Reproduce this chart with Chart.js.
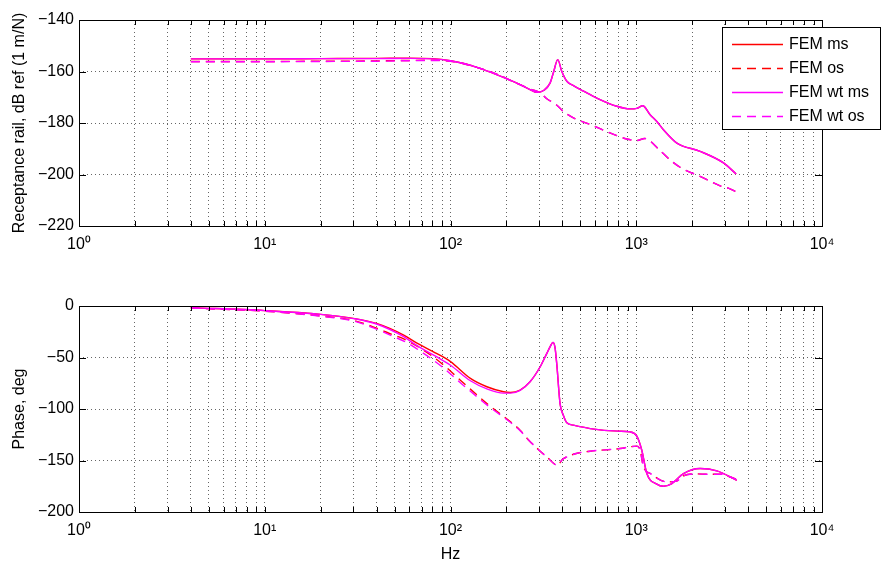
<!DOCTYPE html>
<html>
<head>
<meta charset="utf-8">
<script src="https://cdn.jsdelivr.net/npm/chart.js@4.4.1/dist/chart.umd.min.js"></script>
<style>
  body { margin: 0; background: #fff; }
  #wrap { position: relative; width: 881px; height: 564px; }
  #magWrap { position: absolute; left: 0; top: 0; }
  #phaseWrap { position: absolute; left: 0; top: 280px; }
</style>
</head>
<body>
<div id="wrap">
  <div id="magWrap"><canvas id="magChart" width="881" height="280"></canvas></div>
  <div id="phaseWrap"><canvas id="phaseChart" width="881" height="284"></canvas></div>
</div>
<script>
// receptance, dB ref 1 m/N
const magFreqMs = [4, 10, 20, 40, 60, 80, 100, 118, 140, 177, 220, 268, 292, 317, 344, 358, 378, 397, 423, 459, 520, 613, 786, 927, 1007, 1084, 1188, 1291, 1401, 1655, 2206, 2950, 3450];
const magMs =     [-155.1, -155.1, -155.0, -154.9, -154.8, -155.0, -155.8, -156.9, -158.5, -161.2, -164.0, -167.0, -168.1, -167.4, -164.4, -160.5, -155.4, -159.9, -163.8, -165.5, -167.6, -170.3, -173.5, -174.5, -174.3, -173.3, -176.8, -179.4, -182.6, -187.8, -191.0, -195.5, -199.8];
const magWtMs =   [-155.1, -155.1, -155.0, -155.0, -154.9, -155.1, -155.8, -156.9, -158.5, -161.2, -164.0, -167.0, -168.1, -167.4, -164.4, -160.5, -155.4, -159.9, -163.8, -165.5, -167.6, -170.3, -173.5, -174.5, -174.3, -173.3, -176.8, -179.4, -182.6, -187.8, -191.0, -195.5, -199.8];

const magFreqOs = [4, 10, 20, 40, 60, 80, 100, 118, 140, 177, 222, 268, 304, 330, 371, 405, 459, 565, 786, 888, 1007, 1110, 1330, 1530, 1750, 2250, 2560, 2830, 3130, 3470];
const magOs =     [-156.1, -156.1, -156.0, -155.9, -155.7, -155.6, -156.0, -157.0, -158.5, -161.0, -164.2, -166.8, -168.3, -170.6, -172.9, -175.5, -178.0, -180.6, -184.9, -186.2, -186.8, -186.0, -190.4, -194.5, -197.5, -201.0, -203.0, -204.4, -205.3, -206.8];
const magWtOs =   [-156.2, -156.2, -156.1, -156.0, -155.8, -155.7, -156.0, -157.0, -158.5, -161.0, -164.2, -166.8, -168.3, -170.6, -172.9, -175.5, -178.0, -180.6, -184.9, -186.2, -186.8, -186.0, -190.4, -194.5, -197.5, -201.0, -203.0, -204.4, -205.3, -206.8];

// phase, deg
const phaseFreqMs = [4, 10, 20, 30, 40, 56, 66, 84, 100, 128, 157, 193, 210, 237, 268, 304, 330, 345, 356, 365, 373, 389, 405, 423, 459, 565, 800, 927, 1007, 1071, 1140, 1291, 1401, 1555, 1796, 2206, 2716, 3477];
const phaseMs =     [-1.6, -4.5, -8.1, -12.0, -16.9, -28.2, -36.0, -46.0, -54.0, -70.3, -78.4, -83.3, -84.0, -81.7, -73.6, -59.0, -46.0, -39.0, -35.3, -40.0, -55.5, -95.0, -106.0, -113.4, -115.7, -119.0, -121.5, -122.2, -126.4, -140.0, -162.7, -173.0, -175.0, -172.4, -162.7, -157.8, -160.1, -169.2];
const phaseWtMs =   [-1.6, -4.5, -8.1, -12.2, -17.5, -29.8, -38.5, -49.2, -57.5, -72.6, -80.5, -84.6, -84.6, -81.9, -73.6, -59.0, -46.0, -39.0, -35.3, -40.0, -55.5, -95.0, -106.0, -113.4, -115.7, -119.0, -121.5, -122.2, -126.4, -140.0, -162.7, -173.0, -175.0, -172.4, -162.7, -157.8, -160.1, -169.2];

const phaseFreqOs = [4, 10, 20, 30, 40, 49, 56, 69, 90, 113, 157, 237, 263, 300, 330, 377, 400, 423, 475, 565, 819, 1007, 1050, 1093, 1200, 1349, 1470, 1650, 1800, 2120, 2420, 2950, 3200, 3450];
const phaseOs =     [-2.0, -5.0, -9.7, -14.0, -21.5, -28.0, -32.0, -41.0, -56.0, -72.0, -94.6, -120.6, -130.0, -140.0, -146.5, -154.6, -149.0, -146.5, -143.2, -141.0, -138.4, -136.0, -140.0, -156.0, -163.0, -169.0, -170.8, -170.0, -164.8, -163.0, -163.4, -163.4, -166.0, -168.0];
const phaseWtOs =   [-2.0, -5.0, -9.9, -14.5, -22.5, -29.5, -34.0, -44.0, -59.0, -74.5, -96.0, -121.0, -130.0, -140.0, -146.5, -154.6, -149.0, -146.5, -143.2, -141.0, -138.4, -136.0, -140.0, -156.0, -163.0, -169.0, -170.8, -170.0, -164.8, -163.0, -163.4, -163.4, -166.0, -168.0];

const seriesNames = ["FEM ms", "FEM os", "FEM wt ms", "FEM wt os"];
const magTicks = [-220, -200, -180, -160, -140];
const phaseTicks = [-200, -150, -100, -50, 0];

const FONT = "'Liberation Sans', Arial, sans-serif";
const sup = ["\u2070", "\u00b9", "\u00b2", "\u00b3", "\u2074"];

function pts(fs, vs) {
  return fs.map((f, i) => ({ x: f, y: vs[i] }));
}

// order: later series (magenta) go on top, like matlab's plot order
function line(label, data, color, dashed, order) {
  return {
    label, data, order,
    borderColor: color,
    borderWidth: 1.4,
    borderDash: dashed ? [9, 6] : [],
    pointRadius: 0,
    fill: false,
    tension: 0.3,
    cubicInterpolationMode: "monotone"
  };
}

// ticks and box like matlab, legend inside the upper axes
const frame = {
  id: "frame",
  afterDraw(chart, args, opts) {
    const { ctx, chartArea: a, scales: { x, y } } = chart;
    ctx.save();
    ctx.strokeStyle = "#000";
    ctx.lineWidth = 1;
    ctx.setLineDash([]);
    ctx.beginPath();
    x.ticks.forEach(t => {
      const px = Math.round(x.getPixelForValue(t.value)) + 0.5;
      ctx.moveTo(px, a.bottom); ctx.lineTo(px, a.bottom - 5);
      ctx.moveTo(px, a.top); ctx.lineTo(px, a.top + 5);
    });
    y.ticks.forEach(t => {
      const py = Math.round(y.getPixelForValue(t.value)) + 0.5;
      ctx.moveTo(a.left, py); ctx.lineTo(a.left + 7, py);
      ctx.moveTo(a.right, py); ctx.lineTo(a.right - 7, py);
    });
    ctx.stroke();
    ctx.strokeRect(Math.round(a.left) + 0.5, Math.round(a.top) + 0.5,
      Math.round(a.right - a.left), Math.round(a.bottom - a.top));

    if (opts.legend) {
      ctx.fillStyle = "#fff";
      ctx.fillRect(722.5, 27.5, 158, 102);
      ctx.strokeRect(722.5, 27.5, 158, 102);
      ctx.font = "16px " + FONT;
      ctx.textBaseline = "middle";
      const byLabel = chart.data.datasets.slice().sort((p, q) => seriesNames.indexOf(p.label) - seriesNames.indexOf(q.label));
      byLabel.forEach((ds, i) => {
        const yy = 44 + i * 24;
        ctx.strokeStyle = ds.borderColor;
        ctx.lineWidth = ds.borderWidth;
        ctx.setLineDash(ds.borderDash);
        ctx.beginPath();
        ctx.moveTo(732, yy + 0.5); ctx.lineTo(783, yy + 0.5);
        ctx.stroke();
        ctx.fillStyle = "#000";
        ctx.fillText(ds.label, 789, yy + 1);
      });
    }
    ctx.restore();
  }
};

function logTicks(scale) {
  const list = [];
  for (let e = 0; e < 4; e++) {
    for (let m = 1; m < 10; m++) list.push(m * Math.pow(10, e));
  }
  list.push(10000);
  scale.ticks = list.map(v => ({ value: v }));
}

function makeChart(id, datasets, yTicks, yTitle, xTitle, padTop, xHeight, legend) {
  const ctx = document.getElementById(id).getContext("2d");
  return new Chart(ctx, {
    type: "line",
    data: { datasets },
    options: {
      responsive: false,
      animation: false,
      layout: { padding: { top: padTop, right: 59, left: 0, bottom: 0 } },
      plugins: { legend: { display: false }, tooltip: { enabled: false }, frame: { legend } },
      scales: {
        x: {
          type: "logarithmic",
          min: 1, max: 10000,
          afterBuildTicks: logTicks,
          afterFit: s => { s.height = xHeight; },
          grid: { color: "rgba(0,0,0,0.6)", lineWidth: 1, drawTicks: false },
          border: { display: false, dash: [1, 3] },
          ticks: {
            autoSkip: false, maxRotation: 0, padding: 9, color: "#000",
            font: { family: FONT, size: 16 },
            callback: v => {
              const e = Math.log10(v);
              return Math.abs(e - Math.round(e)) < 1e-9 ? "10" + sup[Math.round(e)] : "";
            }
          },
          title: {
            display: !!xTitle, text: xTitle || "", color: "#000",
            font: { family: FONT, size: 16 }, padding: { top: 2, bottom: 0 }
          }
        },
        y: {
          min: yTicks[0], max: yTicks[yTicks.length - 1],
          afterBuildTicks: s => { s.ticks = yTicks.map(v => ({ value: v })); },
          afterFit: s => { s.width = 79; },
          grid: { color: "rgba(0,0,0,0.6)", lineWidth: 1, drawTicks: false },
          border: { display: false, dash: [1, 3] },
          ticks: {
            padding: 5, color: "#000",
            font: { family: FONT, size: 16 },
            callback: v => String(v).replace("-", "\u2212")
          },
          title: {
            display: true, text: yTitle, color: "#000",
            font: { family: FONT, size: 16 }, padding: { top: 10, bottom: 0 }
          }
        }
      }
    },
    plugins: [frame]
  });
}

makeChart("magChart", [
  line(seriesNames[0], pts(magFreqMs, magMs), "#ff0000", false, 3),
  line(seriesNames[1], pts(magFreqOs, magOs), "#ff0000", true, 2),
  line(seriesNames[2], pts(magFreqMs, magWtMs), "#ff00ff", false, 1),
  line(seriesNames[3], pts(magFreqOs, magWtOs), "#ff00ff", true, 0)
], magTicks, "Receptance rail, dB ref (1 m/N)", null, 20, 54, true);

makeChart("phaseChart", [
  line(seriesNames[0], pts(phaseFreqMs, phaseMs), "#ff0000", false, 3),
  line(seriesNames[1], pts(phaseFreqOs, phaseOs), "#ff0000", true, 2),
  line(seriesNames[2], pts(phaseFreqMs, phaseWtMs), "#ff00ff", false, 1),
  line(seriesNames[3], pts(phaseFreqOs, phaseWtOs), "#ff00ff", true, 0)
], phaseTicks, "Phase, deg", "Hz", 26, 52, false);
</script>
</body>
</html>
